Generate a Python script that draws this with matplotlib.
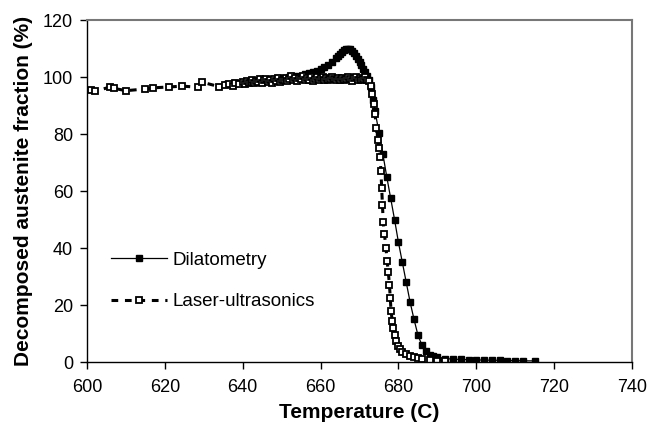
import matplotlib
matplotlib.use("Agg")
import matplotlib.pyplot as plt

plt.rcParams['font.family'] = ['Liberation Sans', 'DejaVu Sans']

# dilatometry (solid line, filled squares)
dil_T = [636, 638, 640, 642, 644, 646, 648, 650, 652, 654,
         656, 657, 658, 659, 660, 661, 662, 663, 664, 664.5,
         665, 665.5, 666, 666.5, 667, 667.5, 668, 668.5, 669, 669.5,
         670, 670.5, 671, 671.5, 672, 672.5, 673, 673.5, 674, 675,
         676, 677, 678, 679, 680, 681, 682, 683, 684, 685,
         686, 687, 688, 689, 690, 692, 694, 696, 698, 700,
         702, 704, 706, 708, 710, 712, 715]
dil_f = [97.5, 97.8, 98.0, 98.3, 98.6, 98.9, 99.2, 99.6, 100.0, 100.4,
         100.9, 101.3, 101.7, 102.2, 102.8, 103.5, 104.3, 105.3, 106.5, 107.3,
         108.1, 108.9, 109.5, 109.9, 110.0, 109.7, 109.1, 108.3, 107.4, 106.4,
         105.3, 104.1, 102.9, 101.6, 100.2, 98.8, 96.5, 92.0, 88.0, 80.5,
         73.0, 65.0, 57.5, 50.0, 42.0, 35.0, 28.0, 21.0, 15.0, 9.5,
         6.0, 4.0, 2.6, 2.0, 1.6, 1.2, 1.0, 0.9, 0.8, 0.7,
         0.7, 0.6, 0.6, 0.5, 0.5, 0.4, 0.4]

# laser-ultrasonics (dashed line, open squares)
las_T = [601, 602, 606, 607, 610, 615, 617, 621, 624.5, 628.5,
         629.5, 634, 635.5, 636.5, 637.5, 638, 639, 640, 640.5, 641,
         641.5, 642, 642.5, 643, 643.5, 644, 644.5, 645, 645.5, 646,
         646.5, 647, 647.5, 648, 648.5, 649, 649.5, 650, 650.5, 651,
         651.5, 652, 652.5, 653, 653.5, 654, 654.5, 655, 655.5, 656,
         656.5, 657, 657.5, 658, 658.5, 659, 659.5, 660, 660.5, 661,
         661.5, 662, 662.5, 663, 663.5, 664, 664.5, 665, 665.5, 666,
         666.5, 667, 667.5, 668, 668.5, 669, 669.5, 670, 670.5, 671,
         671.5, 672, 672.5, 673, 673.3, 673.6, 674, 674.3, 674.7, 675,
         675.3, 675.5, 675.7, 675.9, 676.1, 676.4, 676.8, 677.1, 677.4, 677.7,
         677.9, 678.1, 678.4, 678.7, 679, 679.5, 680, 680.5, 681, 682,
         683, 684, 685, 686, 688, 690, 692]
las_f = [95.5, 95.0, 96.5, 96.0, 95.2, 95.8, 96.2, 96.5, 96.8, 96.4,
         98.2, 96.6, 97.2, 97.6, 97.0, 98.0, 97.4, 98.2, 97.6, 98.6,
         97.8, 98.4, 99.0, 97.9, 98.7, 98.2, 99.2, 98.0, 98.8, 99.4,
         98.3, 99.0, 97.8, 99.3, 98.6, 99.6, 98.4, 99.1, 98.8, 99.7,
         98.5, 99.3, 100.2, 98.9, 99.5, 98.6, 99.8, 99.2, 100.3, 98.8,
         99.6, 99.1, 100.0, 98.7, 99.4, 99.9, 98.9, 99.5, 100.1, 99.0,
         99.7, 98.8, 99.4, 100.0, 99.2, 98.8, 99.6, 99.1, 99.8, 98.9,
         99.4, 100.0, 99.2, 98.7, 99.5, 99.9, 99.0, 99.6, 98.8, 99.4,
         99.9, 99.1, 98.6, 97.0, 94.0, 90.5, 87.0, 82.0, 78.0, 75.0,
         72.0, 67.0, 61.0, 55.0, 49.0, 45.0, 40.0, 35.5, 31.5, 27.0,
         22.5, 18.0, 14.5, 12.0, 9.5, 7.5, 5.5, 4.5, 3.5, 2.8,
         2.2, 1.8, 1.4, 1.1, 0.8, 0.5, 0.4]

x_ticks = [600, 620, 640, 660, 680, 700, 720, 740]
y_ticks = [0, 20, 40, 60, 80, 100, 120]

fig = plt.figure(figsize=(6.47, 4.23), dpi=100)
ax = fig.add_axes([87 / 647, 61 / 423, 545 / 647, 342 / 423])

ax.plot(dil_T, dil_f, '-', color='black', lw=0.9, marker='s', ms=3.8,
        mfc='black', mec='black', label='Dilatometry')
ax.plot(las_T, las_f, '--', color='black', lw=2.2, dashes=(2.2, 2.2),
        marker='s', ms=3.8, mfc='white', mec='black', mew=1.3,
        label='Laser-ultrasonics')

ax.set_xlim(600, 740)
ax.set_ylim(0, 120)
ax.set_xticks(x_ticks)
ax.set_yticks(y_ticks)
ax.tick_params(direction='out', length=5, width=1, labelsize=13, pad=5)
ax.tick_params(axis='x', top=False, pad=7)
ax.tick_params(axis='y', right=False)

for s in ['top', 'right']:
    ax.spines[s].set_color('#777777')
    ax.spines[s].set_linewidth(1.5)
for s in ['left', 'bottom']:
    ax.spines[s].set_color('black')
    ax.spines[s].set_linewidth(1.0)

ax.set_xlabel('Temperature (C)', fontsize=15, fontweight='bold', labelpad=5)
ax.set_ylabel('Decomposed austenite fraction (%)', fontsize=15,
              fontweight='bold', labelpad=7)

ax.legend(loc='upper left', bbox_to_anchor=(0.03, 0.345), frameon=False,
          fontsize=13.5, handlelength=3.0, labelspacing=1.3, handletextpad=0.3,
          borderaxespad=0, markerscale=1.0)

fig.savefig('out.png', dpi=100)
